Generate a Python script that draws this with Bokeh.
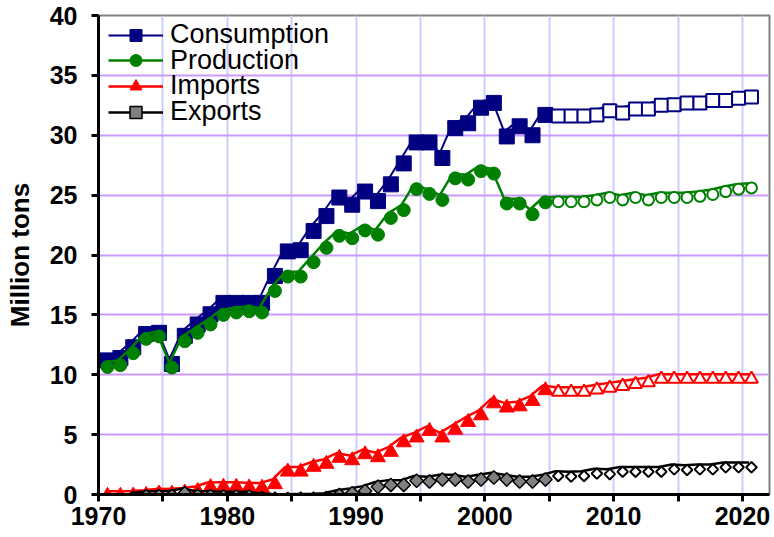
import math
from bokeh.plotting import figure
from bokeh.models import ColumnDataSource, FixedTicker, Legend, LegendItem
from bokeh.transform import dodge
from bokeh.embed import file_html
from bokeh.resources import INLINE

NaN = math.nan

# ---- data (million tons) ----
years = list(range(1970, 2021))
consumption = [11.6, 11.8, 12.7, 13.8, 13.9, 11.3, 13.65, 14.6, 15.45, 16.4,
               16.4, 16.4, 16.4, 18.65, 20.7, 20.8, 22.4, 23.65, 25.2, 24.6,
               25.7, 24.9, 26.3, 28.05, 29.8, 29.8, 28.5, 31.0, 31.4, 32.7,
               33.1, 30.3, 31.15, 30.4, 32.1, 32.0, 32.0, 32.0, 32.1, 32.45,
               32.25, 32.6, 32.6, 32.9, 32.95, 33.1, 33.1, 33.3, 33.3, 33.5,
               33.6]
production = [11.05, 11.2, 12.2, 13.4, 13.6, 11.0, 13.2, 13.9, 14.6, 15.4,
              15.6, 15.7, 15.6, 17.4, 18.6, 18.6, 19.8, 21.0, 22.0, 21.8,
              22.45, 22.1, 23.5, 24.15, 25.9, 25.5, 25.0, 26.8, 26.7, 27.4,
              27.2, 24.7, 24.7, 23.8, 24.8, 24.85, 24.85, 24.85, 25.0, 25.2,
              25.0, 25.2, 25.0, 25.2, 25.2, 25.2, 25.3, 25.45, 25.7, 25.9,
              26.0]
imports = [0.28, 0.28, 0.3, 0.35, 0.47, 0.45, 0.55, 0.67, 1.0, 1.03,
           1.03, 0.98, 0.95, 1.25, 2.3, 2.3, 2.7, 2.95, 3.45, 3.25,
           3.75, 3.5, 3.95, 4.75, 5.15, 5.7, 5.15, 5.8, 6.45, 7.0,
           8.0, 7.65, 7.75, 8.2, 9.1, 8.95, 8.95, 8.95, 9.15, 9.3,
           9.45, 9.6, 9.75, 10.05, 10.05, 10.05, 10.05, 10.05, 10.05, 10.05,
           10.05]
exports = [NaN, NaN, 0.1, 0.25, 0.28, 0.28, 0.5, 0.3, 0.28, 0.23,
           0.23, 0.23, 0.1, 0.05, 0.03, 0.05, 0.05, 0.1, 0.35, 0.5,
           0.7, 1.05, 1.2, 1.2, 1.55, 1.48, 1.65, 1.65, 1.48, 1.65,
           1.82, 1.65, 1.48, 1.48, 1.65, 1.95, 1.9, 1.95, 2.15, 2.1,
           2.3, 2.3, 2.3, 2.3, 2.5, 2.45, 2.5, 2.5, 2.67, 2.67,
           2.67]
projection_start = 2005
x_ticks = list(range(1970, 2021, 5))
x_tick_labels = {t: (str(t) if t % 10 == 0 else "") for t in x_ticks}
y_ticks = list(range(0, 41, 5))
series_names = ["Consumption", "Production", "Imports", "Exports"]

FONT = "Liberation Sans"

data = dict(year=years, cons=consumption, prod=production, imp=imports, exp=exports)
full = ColumnDataSource(data)
hist_idx = [i for i, y in enumerate(years) if y < projection_start]
proj_idx = [i for i, y in enumerate(years) if y >= projection_start]
hist = ColumnDataSource({k: [v[i] for i in hist_idx] for k, v in data.items()})
proj = ColumnDataSource({k: [v[i] for i in proj_idx] for k, v in data.items()})

p = figure(width=772, height=535, x_range=(1970, 2022.1), y_range=(0, 40),
           output_backend="svg", toolbar_location=None,
           min_border_left=98, min_border_right=3, min_border_top=15, min_border_bottom=41)
p.background_fill_color = "white"
p.border_fill_color = "white"
p.outline_line_color = "#808080"
p.outline_line_width = 2

# axes
p.xaxis.ticker = FixedTicker(ticks=x_ticks)
p.xaxis.major_label_overrides = x_tick_labels
p.yaxis.ticker = FixedTicker(ticks=y_ticks)
p.xgrid.ticker = p.xaxis[0].ticker
p.ygrid.ticker = p.yaxis[0].ticker
for ax in (p.xaxis, p.yaxis):
    ax.axis_line_width = 3
    ax.axis_line_color = "black"
    ax.major_tick_line_width = 3
    ax.major_tick_line_color = "black"
    ax.major_tick_in = 0
    ax.major_tick_out = 7
    ax.minor_tick_line_color = None
    ax.major_label_text_font = FONT
    ax.major_label_text_font_style = "bold"
    ax.major_label_text_font_size = "25px"
    ax.major_label_text_color = "black"
p.xaxis.major_label_standoff = 5
p.yaxis.major_label_standoff = 14
p.yaxis.axis_label = "Million tons"
p.yaxis.axis_label_text_font = FONT
p.yaxis.axis_label_text_font_style = "bold"
p.yaxis.axis_label_text_font_size = "26px"
p.yaxis.axis_label_text_color = "black"
p.yaxis.axis_label_standoff = 12

p.xgrid.grid_line_color = "#CCCCFF"
p.xgrid.grid_line_width = 2
p.ygrid.grid_line_color = "#CC99FF"
p.ygrid.grid_line_width = 2

xl = dodge("year", 0.5)
xm = dodge("year", 0.7)

styles = [
    ("cons", "#000080", "square", 15, 0.0, 2),
    ("prod", "#008000", "circle", 13, 0.0, 2.5),
    ("imp", "#FF0000", "triangle", 15, 0.0, 2.5),
    ("exp", "black", "square", 9.5, math.pi / 4, 2.5),
]
fills = {"cons": "#000080", "prod": "#008000", "imp": "#FF0000", "exp": "#808080"}

items = []
for name, (col, color, marker, size, ang, lw) in zip(series_names, styles):
    lr = p.line(xl, col, source=full, line_color=color, line_width=lw)
    ym = dodge(col, -0.4)
    outline = "black" if col == "exp" else color
    fr = p.scatter(xm, ym, source=hist, marker=marker, size=size, angle=ang,
                   fill_color=fills[col], line_color=outline, line_width=1.5 if col == "exp" else 1)
    p.scatter(xm, ym, source=proj, marker=marker, size=size - 2, angle=ang,
              fill_color="white", line_color=outline, line_width=2)
    items.append(LegendItem(label=name, renderers=[lr, fr]))

# one single-row legend per series, stacked tightly like the original
row_step = 25.7
for i, item in enumerate(items):
    lg = Legend(items=[item], location=(10, 444 - row_step * i))
    lg.label_text_font = FONT
    lg.label_text_font_size = "27px"
    lg.label_text_color = "black"
    lg.glyph_width = 55
    lg.glyph_height = 30
    lg.label_height = 30
    lg.label_standoff = 7
    lg.margin = 0
    lg.padding = 0
    lg.background_fill_alpha = 0
    lg.border_line_alpha = 0
    p.add_layout(lg)

open("out.html", "w").write(file_html(p, INLINE))
